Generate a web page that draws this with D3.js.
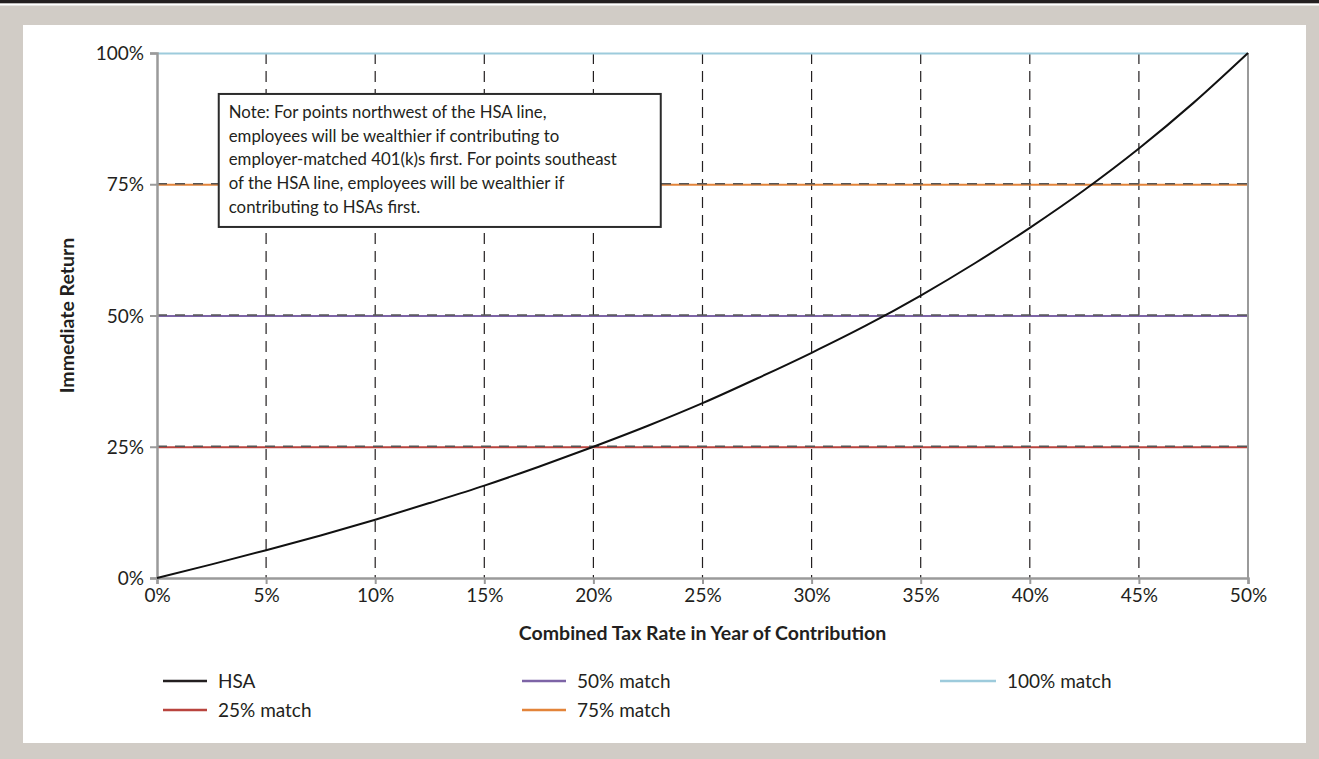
<!DOCTYPE html>
<html>
<head>
<meta charset="utf-8">
<script src="https://cdn.jsdelivr.net/npm/d3@7"></script>
<style>
  body { margin: 0; background: #d1ccc6; }
  svg { display: block; }
  .tick text { font-family: Lato, "Open Sans", sans-serif; font-size: 19px; fill: #231f20; }
</style>
</head>
<body>
<div id="chart"></div>
<script>
// tax rate (x) and HSA immediate return (y), in %
const taxRates = [0, 2.5, 5, 7.5, 10, 12.5, 15, 17.5, 20, 22.5, 25, 27.5, 30, 32.5, 35, 37.5, 40, 42.5, 45, 47.5, 50];
const hsaReturn = [0, 2.6, 5.3, 8.1, 11.1, 14.3, 17.6, 21.2, 25.0, 29.0, 33.3, 38.0, 42.9, 48.1, 53.8, 60.0, 66.7, 73.9, 81.8, 90.5, 100];

// employer match lines
const matchNames = ["25% match", "50% match", "75% match", "100% match"];
const matchValues = [25, 50, 75, 100];
const matchColors = ["#b9443e", "#7d64a6", "#e3843a", "#9dcbdc"];

const xTicks = [0, 5, 10, 15, 20, 25, 30, 35, 40, 45, 50];
const yTicks = [0, 25, 50, 75, 100];

const noteLines = [
    "Note: For points northwest of the HSA line,",
    "employees will be wealthier if contributing to",
    "employer-matched 401(k)s first. For points southeast",
    "of the HSA line, employees will be wealthier if",
    "contributing to HSAs first."
];

const W = 1319, H = 759;
const margin = { top: 53, right: 71, bottom: 181, left: 157 };
const width = W - margin.left - margin.right;
const height = H - margin.top - margin.bottom;

let svg = d3.select("#chart").append("svg")
    .attr("width", W)
    .attr("height", H);

// background frame
svg.append("rect").attr("width", W).attr("height", H).attr("fill", "#d1ccc6");
svg.append("rect").attr("width", W).attr("height", 3.5).attr("fill", "#231f20");
svg.append("rect").attr("y", 3.5).attr("width", W).attr("height", 2).attr("fill", "#ffffff");
svg.append("rect").attr("x", 23).attr("y", 25).attr("width", 1283).attr("height", 718).attr("fill", "#ffffff");

let g = svg.append("g")
    .attr("transform", "translate(" + margin.left + "," + margin.top + ")");

let x = d3.scaleLinear().domain([0, 50]).range([0, width]);
let y = d3.scaleLinear().domain([0, 100]).range([height, 0]);

// vertical dashed grid
g.selectAll(".vgrid")
    .data(xTicks.filter(d => d > 0 && d < 50))
    .enter().append("line")
    .attr("class", "vgrid")
    .attr("x1", d => x(d)).attr("x2", d => x(d))
    .attr("y1", 0).attr("y2", height)
    .attr("stroke", "#231f20")
    .attr("stroke-width", 1.2)
    .attr("stroke-dasharray", "11,7");

// match lines, then dashed grid over them
g.selectAll(".match")
    .data(matchValues)
    .enter().append("line")
    .attr("class", "match")
    .attr("x1", 0).attr("x2", width)
    .attr("y1", d => y(d) + 0.5).attr("y2", d => y(d) + 0.5)
    .attr("stroke", (d, i) => matchColors[i])
    .attr("stroke-width", 2.2);

g.selectAll(".hgrid")
    .data(yTicks.filter(d => d > 0 && d < 100))
    .enter().append("line")
    .attr("class", "hgrid")
    .attr("x1", 0).attr("x2", width)
    .attr("y1", d => y(d) - 0.5).attr("y2", d => y(d) - 0.5)
    .attr("stroke", "#555")
    .attr("stroke-width", 1.4)
    .attr("stroke-dasharray", "10,8");

// right border
g.append("line")
    .attr("x1", width).attr("x2", width)
    .attr("y1", 0).attr("y2", height)
    .attr("stroke", "#9a9a9a").attr("stroke-width", 2);

// axes
let xAxis = d3.axisBottom(x).tickValues(xTicks).tickFormat(d => d + "%").tickSize(6).tickPadding(5);
let yAxis = d3.axisLeft(y).tickValues(yTicks).tickFormat(d => d + "%").tickSize(7).tickPadding(6);

let gx = g.append("g").attr("transform", "translate(0," + height + ")").call(xAxis);
let gy = g.append("g").call(yAxis);
[gx, gy].forEach(a => {
    a.select(".domain").attr("stroke", "#9a9a9a").attr("stroke-width", 2.5);
    a.selectAll(".tick line").attr("stroke", "#9a9a9a").attr("stroke-width", 2);
});
gy.selectAll(".tick text").attr("dy", "0.35em");

// HSA curve
let hsaData = taxRates.map((t, i) => ({ t: t, v: hsaReturn[i] }));
let line = d3.line()
    .x(d => x(d.t))
    .y(d => y(d.v))
    .curve(d3.curveMonotoneX);

g.append("path")
    .datum(hsaData)
    .attr("d", line)
    .attr("fill", "none")
    .attr("stroke", "#111")
    .attr("stroke-width", 2);

// note box
let note = g.append("g").attr("transform", "translate(" + (x(2.83)) + "," + (y(92.2)) + ")");
note.append("rect")
    .attr("width", 442).attr("height", 133)
    .attr("fill", "#fff")
    .attr("stroke", "#2b2b2b")
    .attr("stroke-width", 2);
note.selectAll("text")
    .data(noteLines)
    .enter().append("text")
    .attr("x", 10)
    .attr("y", (d, i) => 24 + i * 23.7)
    .attr("font-family", "Lato, 'Open Sans', sans-serif")
    .attr("font-size", 16.8)
    .attr("fill", "#231f20")
    .text(d => d);

// axis titles
g.append("text")
    .attr("x", width / 2)
    .attr("y", height + 62)
    .attr("text-anchor", "middle")
    .attr("font-family", "'Liberation Sans Narrow', Lato, sans-serif")
    .attr("font-weight", "bold")
    .attr("font-size", 19.5)
    .attr("fill", "#231f20")
    .text("Combined Tax Rate in Year of Contribution");

g.append("text")
    .attr("transform", "translate(" + (-83) + "," + (height / 2) + ") rotate(-90)")
    .attr("text-anchor", "middle")
    .attr("font-family", "'Liberation Sans Narrow', Lato, sans-serif")
    .attr("font-weight", "bold")
    .attr("font-size", 19.5)
    .attr("fill", "#231f20")
    .text("Immediate Return");

// legend
const legendNames = ["HSA"].concat(matchNames);
const legendColors = ["#231f20"].concat(matchColors);
const legendCol = [0, 0, 1, 1, 2];
const legendRow = [0, 1, 0, 1, 0];
const colX = [163, 522, 940];
const colLen = [44, 44, 56];
const rowY = [681, 710];

let legend = svg.append("g");
legendNames.forEach((name, i) => {
    let c = legendCol[i];
    let lx = colX[c], ly = rowY[legendRow[i]];
    legend.append("line")
        .attr("x1", lx).attr("x2", lx + colLen[c])
        .attr("y1", ly).attr("y2", ly)
        .attr("stroke", legendColors[i])
        .attr("stroke-width", 2.5);
    legend.append("text")
        .attr("x", lx + colLen[c] + 11)
        .attr("y", ly)
        .attr("dy", "0.35em")
        .attr("font-family", "Lato, 'Open Sans', sans-serif")
        .attr("font-size", 19)
        .attr("fill", "#231f20")
        .text(name);
});
</script>
</body>
</html>
